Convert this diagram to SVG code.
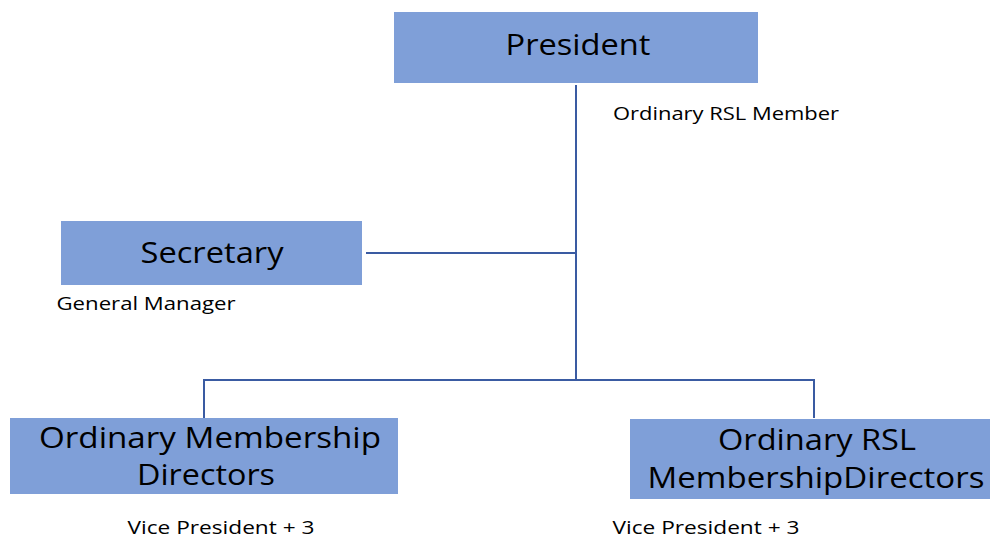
<svg xmlns="http://www.w3.org/2000/svg" width="990" height="540" viewBox="0 0 990 540">
<style>
.box{fill:#7F9FD8;}
.t{font-family:"Open Sans","Liberation Sans",Arial,sans-serif;fill:#000;text-anchor:middle;}
.big{font-size:29px;}
.sm{font-size:19px;}
.ln{fill:none;stroke:#3A5BA2;stroke-width:2;}
</style>
<rect width="990" height="540" fill="#fff"/>
<g id="connectors">
<path class="ln" d="M576 85 V380"/>
<path class="ln" d="M366 253 H576"/>
<path class="ln" d="M204 418 V380 H814 V418"/>
</g>
<g id="president">
<rect class="box" x="394" y="12" width="364" height="71"/>
<text class="t big" x="578" y="55" textLength="145" lengthAdjust="spacingAndGlyphs">President</text>
<text class="t sm" x="726" y="120" textLength="226" lengthAdjust="spacingAndGlyphs">Ordinary RSL Member</text>
</g>
<g id="secretary">
<rect class="box" x="61" y="221" width="301" height="64"/>
<text class="t big" x="212" y="263" textLength="143" lengthAdjust="spacingAndGlyphs">Secretary</text>
<text class="t sm" x="146" y="310" textLength="179" lengthAdjust="spacingAndGlyphs">General Manager</text>
</g>
<g id="omd">
<rect class="box" x="10" y="418" width="388" height="76"/>
<text class="t big" x="210" y="448" textLength="342" lengthAdjust="spacingAndGlyphs">Ordinary Membership</text>
<text class="t big" x="206" y="485" textLength="138" lengthAdjust="spacingAndGlyphs">Directors</text>
<text class="t sm" x="221" y="534" textLength="187" lengthAdjust="spacingAndGlyphs">Vice President + 3</text>
</g>
<g id="ormd">
<rect class="box" x="630" y="419" width="360" height="80"/>
<text class="t big" x="817" y="450" textLength="198" lengthAdjust="spacingAndGlyphs">Ordinary RSL</text>
<text class="t big" x="816" y="488" textLength="337" lengthAdjust="spacingAndGlyphs">MembershipDirectors</text>
<text class="t sm" x="706" y="534" textLength="187" lengthAdjust="spacingAndGlyphs">Vice President + 3</text>
</g>
</svg>
